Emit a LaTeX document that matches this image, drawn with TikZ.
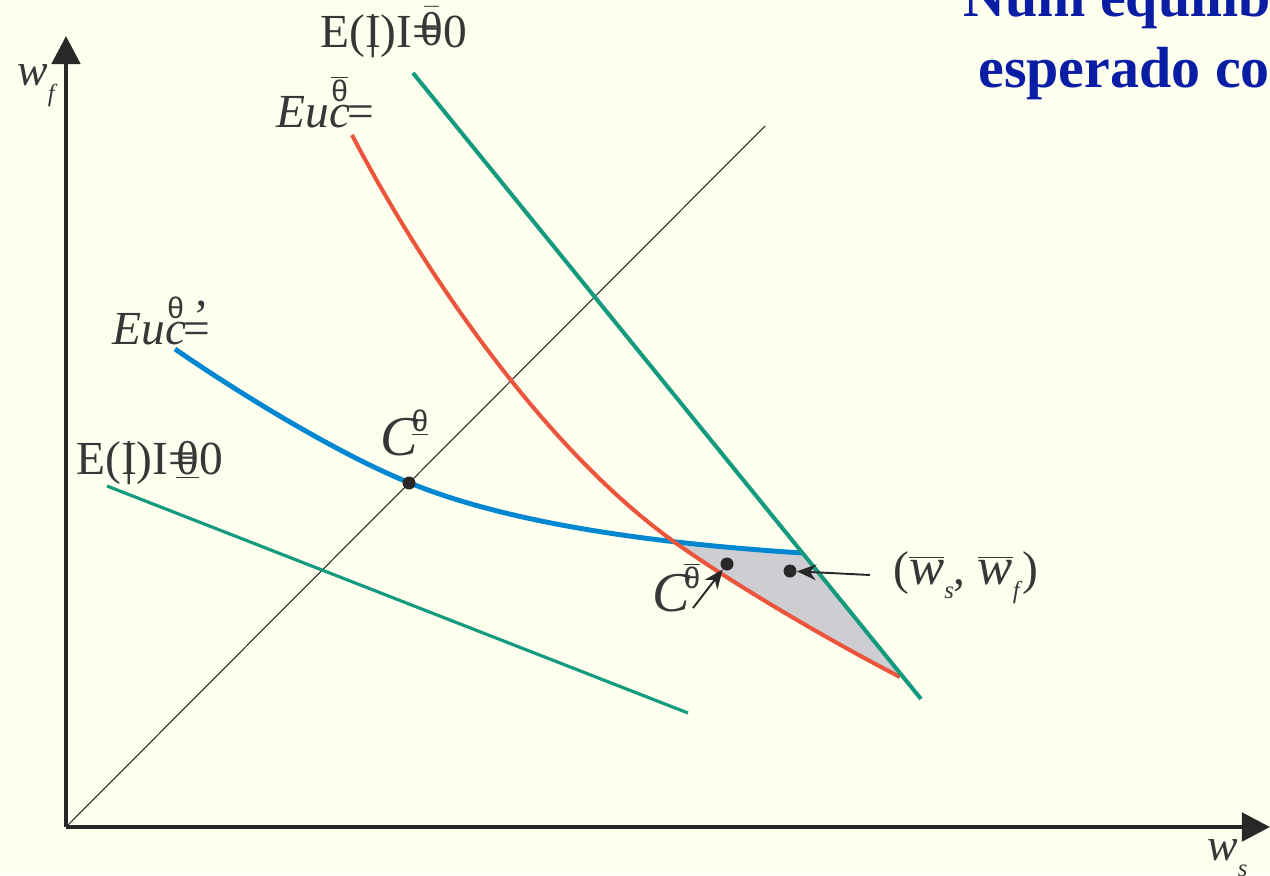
\documentclass[tikz,border=0pt]{standalone}
\usepackage{fontspec}
\setmainfont{Liberation Serif}
\newfontfamily\thetafont{Liberation Sans}
\usetikzlibrary{arrows.meta}
\definecolor{paper}{RGB}{255,255,240}
\definecolor{axisgray}{RGB}{40,40,40}
\definecolor{txtgray}{RGB}{55,55,55}
\definecolor{zerogreen}{RGB}{20,155,125}
\definecolor{curvered}{RGB}{235,85,60}
\definecolor{curveblue}{RGB}{0,135,210}
\definecolor{setgray}{RGB}{205,205,210}
\definecolor{titleblue}{RGB}{10,30,165}
\newcommand{\thup}{{\thetafont\fontsize{17}{17}\selectfont θ}}
\newcommand{\thbar}{$\overline{\hbox{\thup}}$}
\newcommand{\thund}{$\underline{\hbox{\thup}}$}

\begin{document}
\begin{tikzpicture}[x=0.02cm,y=-0.02cm,
  axis/.style={draw=axisgray,line width=2.8pt,-{Triangle[length=16pt,width=16pt]}},
  zeroline/.style={draw=zerogreen},
  lbl/.style={inner sep=0pt,anchor=base west,text=txtgray,font=\fontsize{27}{30}\selectfont},
  dot/.style={circle,fill=axisgray,inner sep=0pt,minimum size=0.26cm},
  pointer/.style={draw=axisgray,line width=1.1pt,-{Stealth[length=11pt,width=9pt]}}]
  % --- page and background ---
  \useasboundingbox (0,0) rectangle (1270,875);
  \fill[paper] (0,0) rectangle (1270,875);
  % --- title (runs off the page) ---
  \node[anchor=base west,inner sep=0pt,text=titleblue,font=\fontsize{33}{36}\bfseries] (title1) at (963,17) {Num equilíb};
  \node[anchor=base west,inner sep=0pt,text=titleblue,font=\fontsize{33}{36}\bfseries] (title2) at (978,88) {esperado co};
  % --- 45 degree line ---
  \coordinate (origin) at (66,827);
  \coordinate (diagend) at (765,126);
  \draw[axisgray,line width=0.6pt] (origin) -- (diagend);
  % --- zero profit lines ---
  \coordinate (hiA) at (413,73);
  \coordinate (hiB) at (921,699);
  \coordinate (loA) at (107,486);
  \coordinate (loB) at (688,713);
  % shaded set between the two indifference curves
  \fill[setgray] (673,541) .. controls (740,589) and (840,646) .. (900,677)
    -- (897,672) -- (802,553) -- (760,549) -- (720,546) -- cycle;
  \draw[zeroline,line width=1.8pt] (loA) -- (loB);
  % --- indifference curves ---
  \draw[curveblue,line width=2.8pt] (175,349) .. controls (240,394) and (340,455) .. (410,483)
    .. controls (520,528) and (680,545) .. (802,553);
  \draw[curvered,line width=2.3pt] (352,135) .. controls (420,265) and (540,445) .. (673,541)
    .. controls (740,589) and (840,646) .. (900,677);
  \draw[zeroline,line width=2.3pt] (hiA) -- (hiB);
  % --- axes ---
  \draw[axis] (origin) -- (66,36);
  \draw[axis] (origin) -- (1270,827);
  \node[lbl,font=\fontsize{26}{30}\selectfont] (wf) at (17,86) {\textit{w}\raisebox{-0.35em}{\fontsize{14}{14}\selectfont\textit{f}}};
  \node[lbl,font=\fontsize{26}{30}\selectfont] (ws) at (1207,860) {\textit{w}\raisebox{-0.35em}{\fontsize{14}{14}\selectfont\textit{s}}};
  % --- curve labels ---
  \node[lbl] (profhi) at (320,48) {E(\rlap{\kern0.08em|}I)I=\kern-0.4em\raisebox{0.05em}{\fontsize{27}{27}\selectfont$\bar{\hbox{θ}}$}0};
  \node[lbl] (proflo) at (76,474) {E(\rlap{\kern0.08em|}I)I=\kern-0.4em$\underline{\hbox{θ}}$0};
  \node[lbl] (euhi) at (276,127) {\textit{Eu}$\stackrel{\hbox{\thbar}}{\hbox{\textit{c}}}$\kern-0.05em=};
  \node[lbl] (eulo) at (112,344) {\textit{Eu}$\stackrel{\hbox{\thup}}{\hbox{\textit{c}}}$\kern-0.05em\rlap{\raisebox{0.25em}{\kern0.2em’}}=};
  % --- points ---
  \node[dot] (clo) at (409,483) {};
  \node[dot] (chi) at (727,564) {};
  \node[dot] (wbar) at (790,571) {};
  \node[lbl,font=\fontsize{32}{32}\selectfont] (clolbl) at (380,455) {\textit{C}\kern-0.12em\raisebox{0.42em}{\thund}};
  \node[lbl,font=\fontsize{32}{32}\selectfont] (chilbl) at (652,611) {\textit{C}\kern-0.12em\raisebox{0.4em}{\thbar}};
  \node[lbl] (wbarlbl) at (893,584) {($\overline{\hbox{\fontsize{30}{30}\selectfont\textit{w}}}$\raisebox{-0.3em}{\fontsize{14}{14}\selectfont\textit{s}}, $\overline{\hbox{\fontsize{30}{30}\selectfont\textit{w}}}$\raisebox{-0.3em}{\fontsize{14}{14}\selectfont\textit{f}})};
  \coordinate (chitail) at (693,608);
  \coordinate (wbartail) at (870,575);
  \draw[pointer] (chitail) -- (chi);
  \draw[pointer] (wbartail) -- (wbar);
\end{tikzpicture}
\end{document}
